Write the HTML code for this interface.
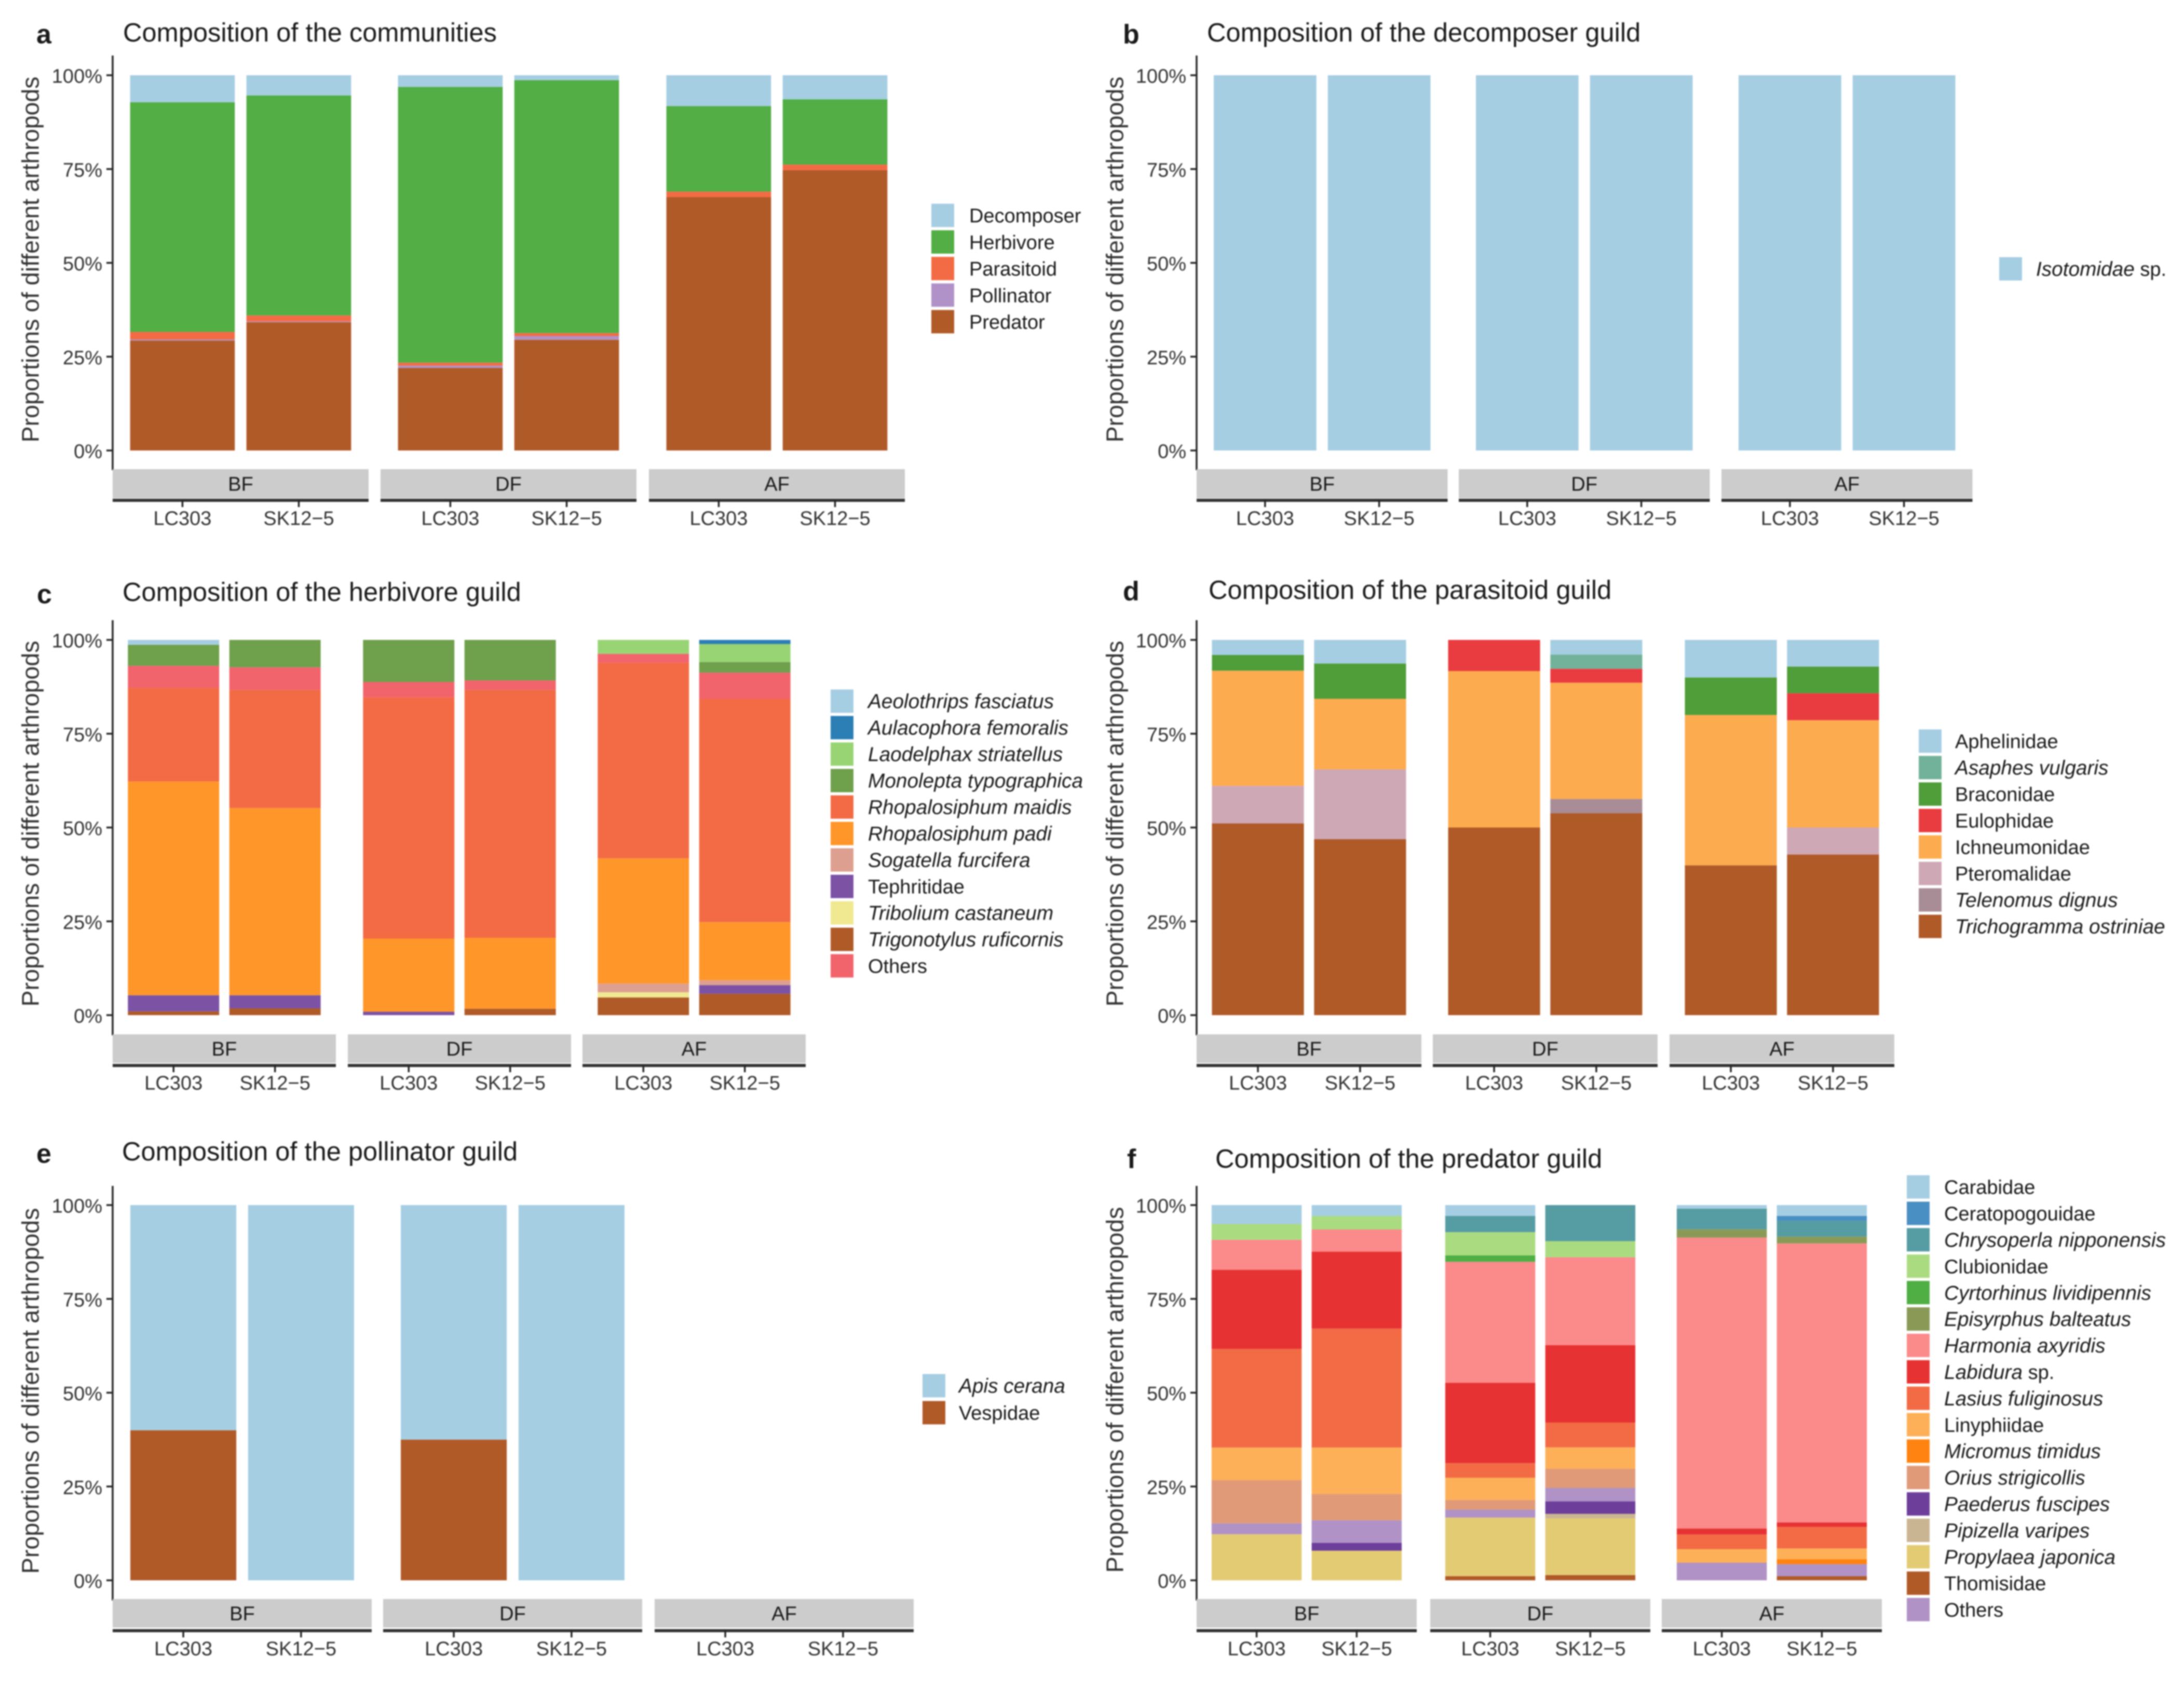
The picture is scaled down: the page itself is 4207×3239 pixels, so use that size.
<!DOCTYPE html>
<html lang="en">
<head>
<meta charset="utf-8">
<title>Composition of arthropod communities and guilds</title>
<style>
html,body{margin:0;padding:0;background:#fff;}
svg{display:block;position:absolute;left:0;top:0;}
text{font-family:"Liberation Sans",Arial,sans-serif;fill:#1a1a1a;}
</style>
</head>
<body>
<svg id="chart" xmlns="http://www.w3.org/2000/svg" width="4207" height="3239" viewBox="0 0 4207 3239">
  <rect x="0" y="0" width="4207" height="3239" fill="#ffffff"></rect>
  <g id="plots" style="filter:blur(1.4px)"></g>
</svg>
<script>
// ---- shared categories and tick labels ----
const facetLabels = ['BF', 'DF', 'AF'];
const cultivarLabels = ['LC303', 'SK12\u22125'];
const yTickValues = [0, 25, 50, 75, 100];
const yTickLabels = ['0%', '25%', '50%', '75%', '100%'];
const yAxisTitle = 'Proportions of different arthropods';

// ---- every series holds: BF LC303, BF SK12-5, DF LC303, DF SK12-5, AF LC303, AF SK12-5 ----
// panel a
const aDecomposer = [7.2, 5.4, 3.1, 1.3, 8.2, 6.4];
const aHerbivore = [61.2, 58.6, 73.5, 67.4, 22.8, 17.4];
const aParasitoid = [2.0, 1.6, 0.8, 0.8, 1.5, 1.5];
const aPollinator = [0.3, 0.2, 0.6, 1.0, 0, 0];
const aPredator = [29.3, 34.2, 22.0, 29.5, 67.5, 74.7];
// panel b
const bIsotomidae = [100, 100, 100, 100, 100, 100];
// panel c
const cAeolothrips = [1.3, 0, 0, 0, 0, 0];
const cAulacophora = [0, 0, 0, 0, 0, 1.1];
const cLaodelphax = [0, 0, 0, 0, 3.7, 4.8];
const cMonolepta = [5.6, 7.3, 11.2, 10.8, 0, 2.8];
const cOthers = [5.9, 6.0, 4.1, 2.5, 2.4, 7.0];
const cMaidis = [24.9, 31.5, 64.3, 66.1, 52.1, 59.5];
const cPadi = [57.0, 49.9, 19.5, 18.9, 33.4, 15.5];
const cSogatella = [0, 0, 0, 0, 2.3, 1.3];
const cTephritidae = [4.3, 3.5, 0.9, 0, 0, 2.3];
const cTribolium = [0, 0, 0, 0, 1.4, 0];
const cTrigonotylus = [1.0, 1.8, 0, 1.7, 4.7, 5.7];
// panel d
const dAphelinidae = [4.0, 6.3, 0, 3.9, 10, 7.1];
const dAsaphes = [0, 0, 0, 3.8, 0, 0];
const dBraconidae = [4.2, 9.4, 0, 0, 10, 7.1];
const dEulophidae = [0, 0, 8.3, 3.7, 0, 7.2];
const dIchneumonidae = [30.7, 18.8, 41.7, 31.0, 40.1, 28.6];
const dPteromalidae = [10, 18.6, 0, 0, 0, 7.2];
const dTelenomus = [0, 0, 0, 3.8, 0, 0];
const dTrichogramma = [51.1, 46.9, 50, 53.8, 39.9, 42.8];
// panel e
const eApis = [60, 100, 62.5, 100, 0, 0];
const eVespidae = [40, 0, 37.5, 0, 0, 0];
// panel f
const fCarabidae = [5.05, 2.9, 2.9, 0, 0.95, 2.9];
const fCeratopogouidae = [0, 0, 0, 0, 0, 1.3];
const fChrysoperla = [0, 0, 4.3, 9.6, 5.5, 4.2];
const fClubionidae = [4.2, 3.6, 6.2, 4.3, 0, 0];
const fCyrtorhinus = [0, 0, 1.7, 0, 0, 0];
const fEpisyrphus = [0, 0, 0, 0, 2.2, 1.8];
const fHarmonia = [8.0, 5.9, 32.2, 23.4, 77.5, 74.3];
const fLabidura = [21.1, 20.5, 21.4, 20.6, 1.6, 1.2];
const fLasius = [26.3, 31.7, 3.9, 6.6, 3.9, 5.7];
const fLinyphiidae = [8.7, 12.4, 5.9, 5.7, 3.6, 2.9];
const fMicromus = [0, 0, 0, 0, 0, 1.3];
const fOrius = [11.5, 7.0, 2.6, 5.1, 0, 0];
const fOthers = [2.9, 6.0, 2.1, 3.6, 4.7, 3.2];
const fPaederus = [0, 2.1, 0, 3.3, 0, 0];
const fPipizella = [0, 0, 0, 1.2, 0, 0];
const fPropylaea = [12.3, 7.9, 15.6, 15.1, 0, 0];
const fThomisidae = [0, 0, 1.1, 1.4, 0, 1.1];

// ---- legend labels, in legend order ----
const aLegend = ['Decomposer', 'Herbivore', 'Parasitoid', 'Pollinator', 'Predator'];
const bLegend = ['Isotomidae sp.'];
const cLegend = ['Aeolothrips fasciatus', 'Aulacophora femoralis', 'Laodelphax striatellus', 'Monolepta typographica', 'Rhopalosiphum maidis', 'Rhopalosiphum padi', 'Sogatella furcifera', 'Tephritidae', 'Tribolium castaneum', 'Trigonotylus ruficornis', 'Others'];
const dLegend = ['Aphelinidae', 'Asaphes vulgaris', 'Braconidae', 'Eulophidae', 'Ichneumonidae', 'Pteromalidae', 'Telenomus dignus', 'Trichogramma ostriniae'];
const eLegend = ['Apis cerana', 'Vespidae'];
const fLegend = ['Carabidae', 'Ceratopogouidae', 'Chrysoperla nipponensis', 'Clubionidae', 'Cyrtorhinus lividipennis', 'Episyrphus balteatus', 'Harmonia axyridis', 'Labidura sp.', 'Lasius fuliginosus', 'Linyphiidae', 'Micromus timidus', 'Orius strigicollis', 'Paederus fuscipes', 'Pipizella varipes', 'Propylaea japonica', 'Thomisidae', 'Others'];
const italicLabels = ['Isotomidae sp.', 'Aeolothrips fasciatus', 'Aulacophora femoralis', 'Laodelphax striatellus', 'Monolepta typographica', 'Rhopalosiphum maidis', 'Rhopalosiphum padi', 'Sogatella furcifera', 'Tribolium castaneum', 'Trigonotylus ruficornis', 'Asaphes vulgaris', 'Telenomus dignus', 'Trichogramma ostriniae', 'Apis cerana', 'Chrysoperla nipponensis', 'Cyrtorhinus lividipennis', 'Episyrphus balteatus', 'Harmonia axyridis', 'Labidura sp.', 'Lasius fuliginosus', 'Micromus timidus', 'Orius strigicollis', 'Paederus fuscipes', 'Pipizella varipes', 'Propylaea japonica'];

// ---- colours by label (styling, kept apart from the values) ----
const colorsA = {'Decomposer':'#a6cee3','Herbivore':'#52ae45','Parasitoid':'#f26b45','Pollinator':'#b192c8','Predator':'#b05a28'};
const colorsB = {'Isotomidae sp.':'#a6cee3'};
const colorsC = {'Aeolothrips fasciatus':'#a6cee3','Aulacophora femoralis':'#2b7fb5','Laodelphax striatellus':'#99d474','Monolepta typographica':'#6fa04c','Rhopalosiphum maidis':'#f26b45','Rhopalosiphum padi':'#ff962a','Sogatella furcifera':'#dda090','Tephritidae':'#7c52a5','Tribolium castaneum':'#f0e992','Trigonotylus ruficornis':'#b05a28','Others':'#f1646c'};
const colorsD = {'Aphelinidae':'#a6cee3','Asaphes vulgaris':'#72b29a','Braconidae':'#4f9e39','Eulophidae':'#e93c40','Ichneumonidae':'#fdab4f','Pteromalidae':'#cfa8b6','Telenomus dignus':'#a98d96','Trichogramma ostriniae':'#b05a28'};
const colorsE = {'Apis cerana':'#a6cee3','Vespidae':'#b05a28'};
const colorsF = {'Carabidae':'#a6cee3','Ceratopogouidae':'#4a8fc4','Chrysoperla nipponensis':'#569ca3','Clubionidae':'#abdb80','Cyrtorhinus lividipennis':'#4fae44','Episyrphus balteatus':'#8a9a56','Harmonia axyridis':'#fb8a8a','Labidura sp.':'#e63232','Lasius fuliginosus':'#f26b45','Linyphiidae':'#fdb057','Micromus timidus':'#ff8310','Orius strigicollis':'#e09a78','Paederus fuscipes':'#6d3f9a','Pipizella varipes':'#c9b592','Propylaea japonica':'#e3cb74','Thomisidae':'#b05a28','Others':'#b092c6'};

// ---- panels: series in stacking order (top of bar first), plus layout ----
const panels = [
  {id:'a', title:'Composition of the communities', colors:colorsA, legend:aLegend,
   stack:[['Decomposer',aDecomposer],['Herbivore',aHerbivore],['Parasitoid',aParasitoid],['Pollinator',aPollinator],['Predator',aPredator]],
   box:{letterX:70, letterY:65, titleX:237, titleY:62, axisX:217, axisTop:107, axisBottom:906, y100:145, y0:868,
        facetX:[217,733,1250], facetW:493, stripTop:904, stripBottom:960, stripLine:964, tickLabelY:998,
        yTitleX:58, yTitleY:500, keyX:1794, textX:1867, legendY:415, pitch:51.2}},
  {id:'b', title:'Composition of the decomposer guild', colors:colorsB, legend:bLegend,
   stack:[['Isotomidae sp.',bIsotomidae]],
   box:{letterX:2163, letterY:65, titleX:2325, titleY:62, axisX:2305, axisTop:107, axisBottom:906, y100:145, y0:868,
        facetX:[2305,2810,3316], facetW:483.5, stripTop:904, stripBottom:960, stripLine:964, tickLabelY:998,
        yTitleX:2147, yTitleY:500, keyX:3851, textX:3922, legendY:518, pitch:51.2}},
  {id:'c', title:'Composition of the herbivore guild', colors:colorsC, legend:cLegend,
   stack:[['Aeolothrips fasciatus',cAeolothrips],['Aulacophora femoralis',cAulacophora],['Laodelphax striatellus',cLaodelphax],['Monolepta typographica',cMonolepta],['Others',cOthers],['Rhopalosiphum maidis',cMaidis],['Rhopalosiphum padi',cPadi],['Sogatella furcifera',cSogatella],['Tephritidae',cTephritidae],['Tribolium castaneum',cTribolium],['Trigonotylus ruficornis',cTrigonotylus]],
   box:{letterX:71, letterY:1144, titleX:236, titleY:1140, axisX:217, axisTop:1195, axisBottom:1995, y100:1233, y0:1956,
        facetX:[217,670,1122], facetW:430, stripTop:1993, stripBottom:2048, stripLine:2053, tickLabelY:2086,
        yTitleX:58, yTitleY:1587, keyX:1600, textX:1672, legendY:1351, pitch:51}},
  {id:'d', title:'Composition of the parasitoid guild', colors:colorsD, legend:dLegend,
   stack:[['Aphelinidae',dAphelinidae],['Asaphes vulgaris',dAsaphes],['Braconidae',dBraconidae],['Eulophidae',dEulophidae],['Ichneumonidae',dIchneumonidae],['Pteromalidae',dPteromalidae],['Telenomus dignus',dTelenomus],['Trichogramma ostriniae',dTrichogramma]],
   box:{letterX:2163, letterY:1138, titleX:2328, titleY:1136, axisX:2305, axisTop:1195, axisBottom:1995, y100:1233, y0:1956,
        facetX:[2305,2760,3216], facetW:433, stripTop:1993, stripBottom:2048, stripLine:2053, tickLabelY:2086,
        yTitleX:2147, yTitleY:1587, keyX:3696, textX:3766, legendY:1428, pitch:51}},
  {id:'e', title:'Composition of the pollinator guild', colors:colorsE, legend:eLegend,
   stack:[['Apis cerana',eApis],['Vespidae',eVespidae]],
   box:{letterX:70, letterY:2222, titleX:235, titleY:2218, axisX:217, axisTop:2285, axisBottom:3084, y100:2322, y0:3045,
        facetX:[217,738,1261], facetW:499, stripTop:3081, stripBottom:3136, stripLine:3142, tickLabelY:3176,
        yTitleX:58, yTitleY:2680, keyX:1777, textX:1847, legendY:2670, pitch:52}},
  {id:'f', title:'Composition of the predator guild', colors:colorsF, legend:fLegend,
   stack:[['Carabidae',fCarabidae],['Ceratopogouidae',fCeratopogouidae],['Chrysoperla nipponensis',fChrysoperla],['Clubionidae',fClubionidae],['Cyrtorhinus lividipennis',fCyrtorhinus],['Episyrphus balteatus',fEpisyrphus],['Harmonia axyridis',fHarmonia],['Labidura sp.',fLabidura],['Lasius fuliginosus',fLasius],['Linyphiidae',fLinyphiidae],['Micromus timidus',fMicromus],['Orius strigicollis',fOrius],['Others',fOthers],['Paederus fuscipes',fPaederus],['Pipizella varipes',fPipizella],['Propylaea japonica',fPropylaea],['Thomisidae',fThomisidae]],
   box:{letterX:2171, letterY:2232, titleX:2341, titleY:2232, axisX:2305, axisTop:2285, axisBottom:3084, y100:2322, y0:3045,
        facetX:[2305,2755,3201], facetW:424, stripTop:3081, stripBottom:3136, stripLine:3142, tickLabelY:3176,
        yTitleX:2147, yTitleY:2678, keyX:3673, textX:3745, legendY:2287, pitch:50.9}}
];

const SVG_NS = 'http://www.w3.org/2000/svg';
const INK = '#262626';
const FONT_TICK = 38;
const FONT_LEGEND = 38;
const FONT_ITALIC = 38.8;
const FONT_TITLE = 50.6;
const FONT_AXIS = 46.5;
const KEY_W = 44;
const KEY_H = 45;

function make(parent, tag, attrs, content) {
  const node = document.createElementNS(SVG_NS, tag);
  Object.keys(attrs).forEach(function (k) { node.setAttribute(k, attrs[k]); });
  if (content !== undefined) node.textContent = content;
  parent.appendChild(node);
  return node;
}
function slug(s) {
  return s.toLowerCase().replace(/[^a-z0-9]+/g, '-').replace(/^-|-$/g, '');
}
function yScale(box, pct) {
  return box.y0 - pct / 100 * (box.y0 - box.y100);
}
function bandWidth(box) {
  return box.facetW / 2.2;
}
function barCenter(box, facetIndex, cultivarIndex) {
  const band = bandWidth(box);
  return box.facetX[facetIndex] + band * (0.6 + cultivarIndex);
}
function midText(size) {
  return size * 0.36;
}

function drawPanel(panel) {
  const box = panel.box;
  const plots = document.getElementById('plots');
  const g = make(plots, 'g', {});
  
  

  const letter = make(g, 'text', {x: box.letterX, y: box.letterY + midText(52), 'font-size': 52, 'font-weight': 'bold'}, panel.id);
  
  

  const title = make(g, 'text', {x: box.titleX, y: box.titleY + midText(FONT_TITLE), 'font-size': FONT_TITLE}, panel.title);
  
  

  const yTitle = make(g, 'text', {x: 0, y: 0, 'font-size': FONT_AXIS, 'text-anchor': 'middle', transform: 'translate(' + (box.yTitleX + midText(FONT_AXIS)) + ' ' + box.yTitleY + ') rotate(-90)', style: 'fill:#333'}, yAxisTitle);
  
  

  // bars
  const band = bandWidth(box);
  const barW = band * 0.9;
  facetLabels.forEach(function (facet, fi) {
    cultivarLabels.forEach(function (cultivar, ci) {
      const idx = fi * cultivarLabels.length + ci;
      let total = 0;
      panel.stack.forEach(function (s) { total += s[1][idx]; });
      if (total <= 0) return;
      let cum = 0;
      for (let k = panel.stack.length - 1; k >= 0; k--) {
        const label = panel.stack[k][0];
        const v = panel.stack[k][1][idx];
        if (v <= 0) continue;
        const yBottom = yScale(box, cum / total * 100);
        cum += v;
        const yTop = yScale(box, cum / total * 100);
        const bar = make(g, 'rect', {x: barCenter(box, fi, ci) - barW / 2, y: yTop, width: barW, height: yBottom - yTop, fill: panel.colors[label]});
        
        
      }
    });
  });

  // y axis
  const axis = make(g, 'line', {x1: box.axisX, x2: box.axisX, y1: box.axisTop, y2: box.axisBottom, stroke: INK, 'stroke-width': 3.5});
  
  
  yTickValues.forEach(function (tv, i) {
    const ty = yScale(box, tv);
    const tick = make(g, 'line', {x1: box.axisX - 12, x2: box.axisX, y1: ty, y2: ty, stroke: INK, 'stroke-width': 3.5});
    
    
    const lab = make(g, 'text', {x: box.axisX - 20, y: ty + midText(FONT_TICK) + 1, 'font-size': FONT_TICK, 'text-anchor': 'end', style: 'fill:#333'}, yTickLabels[i]);
    
    
  });

  // facet strips and x axis
  facetLabels.forEach(function (facet, fi) {
    const fx = box.facetX[fi];
    const strip = make(g, 'rect', {x: fx, y: box.stripTop, width: box.facetW, height: box.stripBottom - box.stripTop, fill: '#cccccc'});
    
    
    const stripLabel = make(g, 'text', {x: fx + box.facetW / 2, y: (box.stripTop + box.stripBottom) / 2 + midText(FONT_TICK), 'font-size': FONT_TICK, 'text-anchor': 'middle'}, facet);
    
    
    const xLine = make(g, 'line', {x1: fx, x2: fx + box.facetW, y1: box.stripLine, y2: box.stripLine, stroke: '#333333', 'stroke-width': 6});
    
    
    cultivarLabels.forEach(function (cultivar, ci) {
      const cx = barCenter(box, fi, ci);
      const tick = make(g, 'line', {x1: cx, x2: cx, y1: box.stripLine, y2: box.stripLine + 13, stroke: INK, 'stroke-width': 3.5});
      
      
      const lab = make(g, 'text', {x: cx, y: box.tickLabelY + midText(FONT_TICK), 'font-size': FONT_TICK, 'text-anchor': 'middle', style: 'fill:#333'}, cultivar);
      
      
    });
  });

  // legend
  panel.legend.forEach(function (label, i) {
    const cy = box.legendY + i * box.pitch;
    const key = make(g, 'rect', {x: box.keyX, y: cy - KEY_H / 2, width: KEY_W, height: KEY_H, fill: panel.colors[label]});
    
    
    const text = make(g, 'text', {x: box.textX, y: cy + midText(FONT_LEGEND), 'font-size': FONT_LEGEND});
    
    
    if (italicLabels.indexOf(label) >= 0) {
      const isSp = / sp\.$/.test(label);
      const main = make(text, 'tspan', {'font-style': 'italic', 'font-size': FONT_ITALIC}, isSp ? label.replace(/ sp\.$/, '') : label);
      
      
      if (isSp) {
        const sp = make(text, 'tspan', {}, ' sp.');
        
        
      }
    } else {
      text.textContent = label;
    }
  });
}

panels.forEach(drawPanel);
</script>
</body>
</html>
